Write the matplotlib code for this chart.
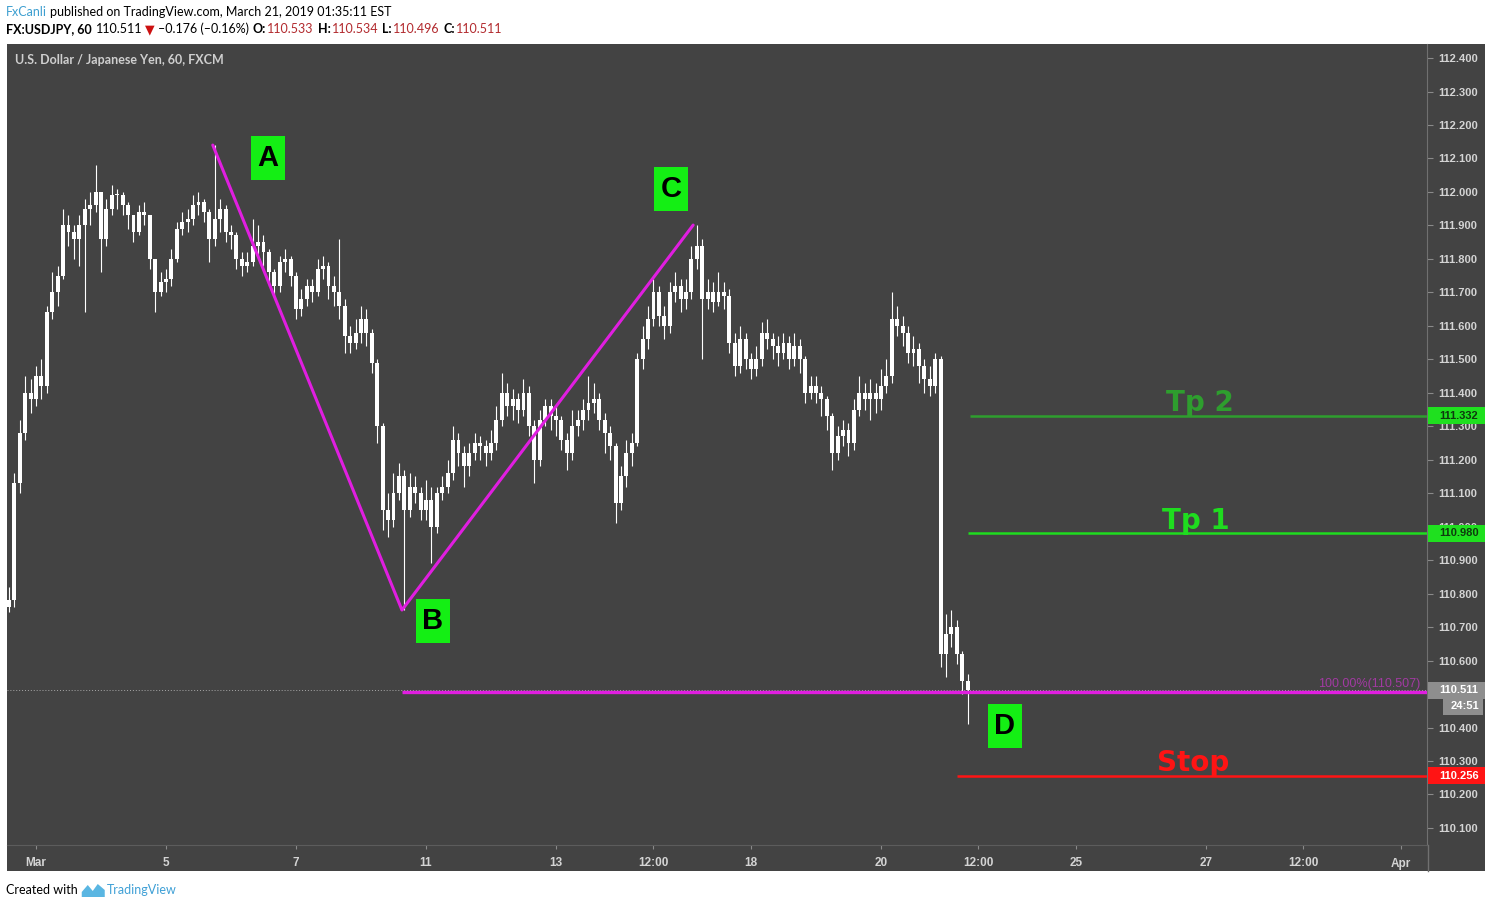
import matplotlib
matplotlib.use("Agg")
import matplotlib.pyplot as plt
from matplotlib.patches import Rectangle, Polygon
from matplotlib.transforms import blended_transform_factory
import numpy as np

# USDJPY, two-hour bars (x = trading days after Mar 1 00:00)
first_open = 110.76
bar_start = -5 / 12
bar_step = 1 / 12

closes = [
    110.78, 111.13, 111.28, 111.40, 111.38, 111.45, 111.42, 111.64, 111.70, 111.75,
    111.90, 111.88, 111.86, 111.90, 111.95, 111.96, 112.00, 111.86, 111.95, 111.99,
    111.99, 111.96, 111.93, 111.88, 111.94, 111.93, 111.80, 111.70, 111.73, 111.74,
    111.80, 111.89, 111.91, 111.92, 111.96, 111.97, 111.94, 111.86, 111.92, 111.95,
    111.88, 111.87, 111.80, 111.78, 111.79, 111.84, 111.85, 111.82, 111.76, 111.72,
    111.79, 111.80, 111.75, 111.65, 111.68, 111.72, 111.70, 111.77, 111.78, 111.72,
    111.70, 111.66, 111.57, 111.55, 111.58, 111.62, 111.58, 111.49, 111.30, 111.05,
    111.02, 111.10, 111.15, 111.05, 111.12, 111.10, 111.05, 111.08, 111.00, 111.10,
    111.12, 111.16, 111.26, 111.22, 111.18, 111.22, 111.25, 111.24, 111.22, 111.25,
    111.32, 111.40, 111.36, 111.38, 111.35, 111.40, 111.30, 111.20, 111.32, 111.36,
    111.33, 111.32, 111.26, 111.22, 111.30, 111.32, 111.35, 111.37, 111.38, 111.32,
    111.28, 111.24, 111.07, 111.15, 111.22, 111.25, 111.50, 111.56, 111.62, 111.70,
    111.63, 111.60, 111.70, 111.72, 111.68, 111.70, 111.80, 111.84, 111.68, 111.70,
    111.67, 111.70, 111.69, 111.55, 111.48, 111.56, 111.50, 111.47, 111.50, 111.58,
    111.56, 111.54, 111.52, 111.55, 111.50, 111.54, 111.50, 111.40, 111.42, 111.40,
    111.38, 111.33, 111.22, 111.27, 111.29, 111.25, 111.35, 111.40, 111.38, 111.40,
    111.38, 111.42, 111.45, 111.62, 111.60, 111.58, 111.52, 111.53, 111.48, 111.44,
    111.42, 111.50, 110.62, 110.68, 110.70, 110.62, 110.54, 110.511,
]
highs = [
    110.82, 111.16, 111.32, 111.45, 111.44, 111.48, 111.50, 111.66, 111.76, 111.78,
    111.95, 111.93, 111.90, 111.93, 111.98, 112.00, 112.08, 112.00, 111.98, 112.02,
    112.01, 112.00, 111.97, 111.93, 111.96, 111.97, 111.93, 111.80, 111.76, 111.77,
    111.83, 111.91, 111.94, 111.95, 111.99, 112.00, 111.98, 111.95, 112.14, 111.98,
    111.96, 111.90, 111.88, 111.82, 111.82, 111.92, 111.90, 111.87, 111.83, 111.77,
    111.81, 111.83, 111.81, 111.76, 111.71, 111.74, 111.74, 111.80, 111.81, 111.79,
    111.75, 111.86, 111.68, 111.60, 111.62, 111.66, 111.65, 111.59, 111.50, 111.31,
    111.10, 111.16, 111.19, 111.17, 111.16, 111.15, 111.12, 111.14, 111.12, 111.12,
    111.15, 111.20, 111.30, 111.28, 111.24, 111.25, 111.28, 111.27, 111.26, 111.29,
    111.36, 111.46, 111.43, 111.41, 111.40, 111.44, 111.42, 111.32, 111.35, 111.38,
    111.38, 111.36, 111.33, 111.28, 111.35, 111.35, 111.38, 111.45, 111.43, 111.40,
    111.34, 111.30, 111.25, 111.18, 111.26, 111.28, 111.52, 111.60, 111.66, 111.74,
    111.72, 111.66, 111.73, 111.76, 111.74, 111.74, 111.84, 111.90, 111.86, 111.74,
    111.73, 111.76, 111.73, 111.71, 111.58, 111.60, 111.58, 111.52, 111.54, 111.61,
    111.62, 111.58, 111.57, 111.58, 111.57, 111.58, 111.56, 111.51, 111.45, 111.45,
    111.42, 111.39, 111.34, 111.30, 111.32, 111.31, 111.38, 111.45, 111.43, 111.44,
    111.43, 111.47, 111.50, 111.70, 111.66, 111.63, 111.60, 111.57, 111.55, 111.50,
    111.48, 111.52, 111.51, 110.74, 110.75, 110.72, 110.63, 110.56,
]
lows = [
    110.745, 110.76, 111.10, 111.26, 111.34, 111.36, 111.38, 111.40, 111.62, 111.66,
    111.74, 111.84, 111.80, 111.78, 111.64, 111.90, 111.94, 111.76, 111.84, 111.93,
    111.95, 111.93, 111.89, 111.85, 111.87, 111.90, 111.77, 111.64, 111.69, 111.70,
    111.72, 111.79, 111.87, 111.88, 111.90, 111.93, 111.91, 111.79, 111.84, 111.88,
    111.85, 111.83, 111.77, 111.75, 111.76, 111.78, 111.81, 111.78, 111.72, 111.69,
    111.70, 111.76, 111.72, 111.62, 111.63, 111.66, 111.67, 111.69, 111.74, 111.68,
    111.66, 111.62, 111.52, 111.52, 111.53, 111.55, 111.54, 111.46, 111.25, 110.99,
    110.97, 111.00, 111.08, 110.75, 111.03, 111.07, 111.02, 111.02, 110.89, 110.98,
    111.08, 111.10, 111.14, 111.18, 111.12, 111.15, 111.20, 111.20, 111.18, 111.20,
    111.23, 111.30, 111.33, 111.32, 111.31, 111.33, 111.27, 111.13, 111.18, 111.30,
    111.29, 111.27, 111.23, 111.17, 111.20, 111.27, 111.29, 111.32, 111.34, 111.29,
    111.22, 111.20, 111.01, 111.05, 111.12, 111.18, 111.24, 111.47, 111.53, 111.60,
    111.60, 111.56, 111.58, 111.67, 111.64, 111.65, 111.68, 111.77, 111.50, 111.65,
    111.64, 111.66, 111.65, 111.52, 111.45, 111.46, 111.47, 111.44, 111.45, 111.48,
    111.53, 111.50, 111.48, 111.50, 111.47, 111.48, 111.46, 111.37, 111.38, 111.37,
    111.33, 111.29, 111.17, 111.20, 111.24, 111.21, 111.23, 111.33, 111.35, 111.32,
    111.34, 111.35, 111.40, 111.43, 111.57, 111.54, 111.49, 111.48, 111.43, 111.40,
    111.39, 111.40, 110.58, 110.55, 110.64, 110.59, 110.50, 110.41,
]

# ABC pattern pivots (day, price)
pivot_days = [2.72, 5.63, 10.11]
pivot_prices = [112.14, 110.751, 111.901]

target_level = 110.507
last_price = 110.511
tp2_level = 111.332
tp1_level = 110.980
stop_level = 110.256

date_ticks = [0, 2, 4, 6, 8, 9.5, 11, 13, 14.5, 16, 18, 19.5, 21]
date_labels = ["Mar", "5", "7", "11", "13", "12:00", "18", "20", "12:00", "25", "27", "12:00", "Apr"]
price_ticks = np.round(np.arange(110.1, 112.41, 0.1), 1)

W, H = 1491, 908
BG = "#434343"
MAGENTA = "#e01ee0"
plt.rcParams["font.family"] = ["Liberation Sans", "DejaVu Sans"]

fig = plt.figure(figsize=(W / 100, H / 100), dpi=100, facecolor="white")
fig.add_artist(Rectangle((7 / W, 1 - 871 / H), (1485 - 7) / W, (871 - 44) / H,
                         transform=fig.transFigure, facecolor=BG, edgecolor="none", zorder=0))
ax = fig.add_axes([7 / W, 1 - 845 / H, 1420 / W, 801 / H], facecolor=BG)
x0, x1 = -0.446, 21.4
ax.set_xlim(x0, x1)
ax.set_ylim(110.049, 112.442)

# candles
closes = np.array(closes)
opens = np.concatenate([[first_open], closes[:-1]])
highs = np.maximum(np.array(highs), np.maximum(opens, closes))
lows = np.minimum(np.array(lows), np.minimum(opens, closes))
xs = bar_start + bar_step * np.arange(len(closes))
ax.vlines(xs, lows, highs, color="white", linewidth=0.8, zorder=3)
body_low = np.minimum(opens, closes)
body_h = np.maximum(np.abs(closes - opens), 0.004)
ax.bar(xs, body_h, bottom=body_low, width=bar_step * 0.72, color="white", linewidth=0, zorder=3)

# last price dotted line
ax.axhline(last_price, color="#a8a8a8", linewidth=0.7, linestyle=(0, (1, 2)), zorder=2)

# ABC legs and D target line
ax.plot(pivot_days, pivot_prices, color=MAGENTA, linewidth=2.2, solid_capstyle="round", zorder=4)
ax.hlines(target_level, pivot_days[1], x1, color=MAGENTA, linewidth=2.4, zorder=4)
ax.text(21.29, target_level + 0.006, "100.00%(110.507)", ha="right", va="bottom",
        fontsize=9, color="#a23aa2", zorder=4)

# take-profit / stop lines
levels = [(tp2_level, 14.37, "#2e9e2e", "Tp 2", 17.9),
          (tp1_level, 14.34, "#1fdc1f", "Tp 1", 17.85),
          (stop_level, 14.17, "#ff1414", "Stop", 17.8)]
for lvl, start, col, name, tx in levels:
    ax.hlines(lvl, start, x1, color=col, linewidth=1.8, zorder=4)
    ax.text(tx, lvl + 0.013, name, ha="center", va="baseline", fontsize=20,
            fontweight="bold", color=col, family="DejaVu Sans", zorder=5)

# pattern letter boxes (centre in pixels -> data)
def px_to_data(px, py):
    return (px - 36) / 65, 112.4 - (py - 58) / 334.8

box_w, box_h = 34 / 65, 44 / 334.8
for name, (cx, cy) in zip(["A", "B", "C", "D"], [(268, 158), (433, 621), (671, 189), (1005, 726)]):
    dx, dy = px_to_data(cx, cy)
    ax.add_patch(Rectangle((dx - box_w / 2, dy - box_h / 2), box_w, box_h,
                           facecolor="#14ef14", edgecolor="none", zorder=6))
    ax.text(dx, dy, name, ha="center", va="center", fontsize=21, fontweight="bold",
            color="black", zorder=7)

# axes styling; the 110.500 label sits under the last-price tag in the original
ax.yaxis.tick_right()
ax.set_yticks(price_ticks)
ax.set_yticklabels(["" if abs(p - 110.5) < 1e-6 else f"{p:.3f}" for p in price_ticks])
ax.set_xticks(date_ticks)
ax.set_xticklabels(date_labels)
ax.tick_params(axis="y", length=4, width=0.8, color="#8a8a8a", labelcolor="#d4d4d4",
               labelsize=8, pad=4)
ax.tick_params(axis="x", length=3, width=0.8, color="#8a8a8a", labelcolor="#d4d4d4",
               labelsize=8.5, pad=6)
for lbl in ax.get_yticklabels() + ax.get_xticklabels():
    lbl.set_fontweight("bold")
for side in ["top", "left"]:
    ax.spines[side].set_visible(False)
ax.spines["right"].set_color("#707070")
ax.spines["bottom"].set_color("#5c5c5c")
fig.add_artist(plt.Line2D([1427.5 / W, 1427.5 / W], [1 - 871 / H, 1 - 845 / H],
                          transform=fig.transFigure, color="#707070", linewidth=1))

# price tags on the right scale
tr = blended_transform_factory(ax.transAxes, ax.transData)
tag_h = 17 / 334.8
def price_tag(price, text, fc, tc, x_left=1428, x_right=1485):
    a0 = (x_left - 7) / 1420
    aw = (x_right - x_left) / 1420
    ax.add_patch(Rectangle((a0, price - tag_h / 2), aw, tag_h, transform=tr,
                           facecolor=fc, edgecolor="none", clip_on=False, zorder=8))
    ax.text(a0 + aw / 2 + 0.0015, price, text, transform=tr, ha="center", va="center",
            fontsize=8, fontweight="bold", color=tc, clip_on=False, zorder=9)

price_tag(tp2_level, "111.332", "#1fe01f", "#0e3a0e")
price_tag(tp1_level, "110.980", "#1fe01f", "#0e3a0e")
price_tag(last_price, "110.511", "#8e8e8e", "white")
price_tag(112.4 - (706.5 - 58) / 334.8, "24:51", "#8e8e8e", "white", 1443, 1483)
price_tag(stop_level, "110.256", "#ff1414", "white")

ax.text(8 / 1420, 1 - 16 / 801, "U.S. Dollar / Japanese Yen, 60, FXCM", transform=ax.transAxes,
        ha="left", va="center", fontsize=9, fontweight="bold", color="#cfcfcf",
        family=["Lato", "DejaVu Sans"])

# header and footer text runs
renderer = fig.canvas.get_renderer()
def write_runs(x_px, y_px, runs, size=9):
    for text, color, weight, gap in runs:
        t = fig.text(x_px / W, 1 - y_px / H, text, ha="left", va="center", fontsize=size,
                     color=color, fontweight=weight, family=["Lato", "DejaVu Sans"])
        x_px += t.get_window_extent(renderer=renderer).width + gap
    return x_px

RED = "#b22a2e"
write_runs(6, 12, [("FxCanli", "#3d9fd0", "normal", 3),
                   ("published on TradingView.com, March 21, 2019 01:35:11 EST", "black", "normal", 0)])
write_runs(6, 29, [("FX:USDJPY, 60", "black", "bold", 4),
                   ("110.511", "black", "normal", 3),
                   ("\u25bc", "#cc1111", "normal", 3),
                   ("\u20130.176 (\u20130.16%)", "black", "normal", 4),
                   ("O:", "black", "bold", 1), ("110.533", RED, "normal", 4),
                   ("H:", "black", "bold", 1), ("110.534", RED, "normal", 4),
                   ("L:", "black", "bold", 1), ("110.496", RED, "normal", 4),
                   ("C:", "black", "bold", 1), ("110.511", RED, "normal", 0)])
lx = write_runs(6, 890, [("Created with", "black", "normal", 4)])
logo = [(lx, 897), (lx, 892), (lx + 6, 885), (lx + 11, 891), (lx + 16, 884), (lx + 23, 890),
        (lx + 23, 897)]
fig.add_artist(Polygon([(px / W, 1 - py / H) for px, py in logo], closed=True,
                       transform=fig.transFigure, facecolor="#5ab6e2", edgecolor="none"))
write_runs(lx + 25, 890, [("TradingView", "#3fa0d6", "normal", 0)])

fig.savefig("out.png", dpi=100)
